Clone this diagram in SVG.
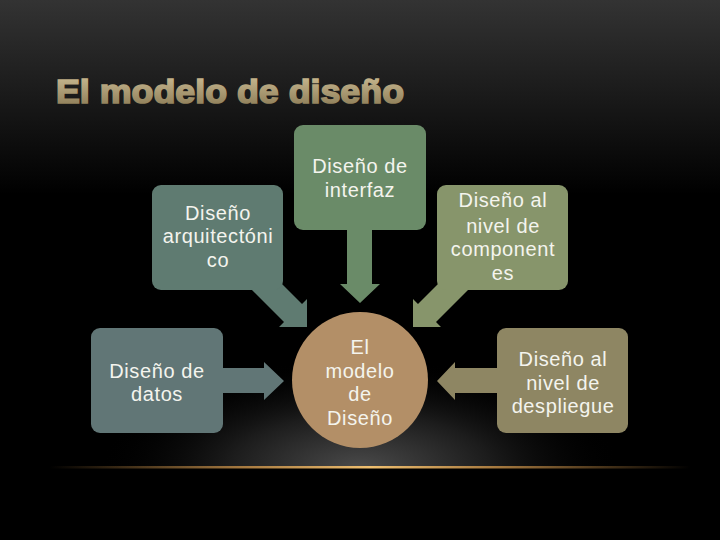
<svg xmlns="http://www.w3.org/2000/svg" width="720" height="540" viewBox="0 0 720 540">
  <defs>
    <linearGradient id="bg" x1="0" y1="0" x2="0" y2="1">
      <stop offset="0" stop-color="#333333"/>
      <stop offset="0.36" stop-color="#000000"/>
      <stop offset="1" stop-color="#000000"/>
    </linearGradient>
    <radialGradient id="glow" cx="360" cy="468" r="260" gradientUnits="userSpaceOnUse" gradientTransform="translate(0,468) scale(1,0.42) translate(0,-468)">
      <stop offset="0" stop-color="#4a4a4a"/>
      <stop offset="0.5" stop-color="#1c1c1c"/>
      <stop offset="1" stop-color="#000000" stop-opacity="0"/>
    </radialGradient>
    <linearGradient id="line" x1="0" y1="0" x2="1" y2="0">
      <stop offset="0" stop-color="#c89048" stop-opacity="0"/>
      <stop offset="0.3" stop-color="#c89048" stop-opacity="0.8"/>
      <stop offset="0.5" stop-color="#f0c070"/>
      <stop offset="0.7" stop-color="#c89048" stop-opacity="0.8"/>
      <stop offset="1" stop-color="#c89048" stop-opacity="0"/>
    </linearGradient>
    <linearGradient id="title" x1="0" y1="0" x2="0" y2="1">
      <stop offset="0" stop-color="#cdbd95"/>
      <stop offset="1" stop-color="#877752"/>
    </linearGradient>
    <style>
      .lbl { font-family: "Liberation Sans", Arial, sans-serif; font-size: 20px; fill: #f4f4ee; text-anchor: middle; letter-spacing: 0.6px; }
      .ttl { font-family: "Liberation Sans", Arial, sans-serif; font-size: 33px; font-weight: 900; fill: url(#title); stroke: url(#title); stroke-width: 1.6; }
    </style>
  </defs>

  <rect x="0" y="0" width="720" height="540" fill="url(#bg)"/>
  <rect x="60" y="330" width="600" height="138" fill="url(#glow)"/>
  <rect x="50" y="466" width="640" height="2.5" fill="url(#line)"/>

  <text class="ttl" x="56" y="103" textLength="348" lengthAdjust="spacingAndGlyphs">El modelo de diseño</text>

  <g id="connectors">
    <polygon fill="#5f7b71" points="262,264 302,304 307,299 307,327 279,327 284,322 244,282"/>
    <polygon fill="#87956b" points="458,264 418,304 413,299 413,327 441,327 436,322 476,282"/>
    <polygon fill="#6a8b68" points="347,225 372,225 372,284 380,284 360,303 340,284 347,284"/>
    <polygon fill="#617676" points="218,368 264,368 264,362 284,381 264,400 264,393 218,393"/>
    <polygon fill="#8e8663" points="502,368 455,368 455,362 437,381 455,400 455,393 502,393"/>
  </g>

  <g id="arquitectonico">
    <rect x="152" y="185" width="131" height="105" rx="9" fill="#5f7b71"/>
    <text class="lbl" x="218" y="220">Diseño</text>
    <text class="lbl" x="218" y="243">arquitectóni</text>
    <text class="lbl" x="218" y="267">co</text>
  </g>

  <g id="interfaz">
    <rect x="294" y="125" width="132" height="105" rx="9" fill="#6a8b68"/>
    <text class="lbl" x="360" y="173">Diseño de</text>
    <text class="lbl" x="360" y="197">interfaz</text>
  </g>

  <g id="componentes">
    <rect x="437" y="185" width="131" height="105" rx="9" fill="#87956b"/>
    <text class="lbl" x="503" y="207">Diseño al</text>
    <text class="lbl" x="503" y="233">nivel de</text>
    <text class="lbl" x="503" y="256">component</text>
    <text class="lbl" x="503" y="280">es</text>
  </g>

  <g id="datos">
    <rect x="91" y="328" width="132" height="105" rx="9" fill="#617676"/>
    <text class="lbl" x="157" y="378">Diseño de</text>
    <text class="lbl" x="157" y="401">datos</text>
  </g>

  <g id="modelo">
    <circle cx="360" cy="380" r="68" fill="#b38f67"/>
    <text class="lbl" x="360" y="354">El</text>
    <text class="lbl" x="360" y="378">modelo</text>
    <text class="lbl" x="360" y="401">de</text>
    <text class="lbl" x="360" y="425">Diseño</text>
  </g>

  <g id="despliegue">
    <rect x="497" y="328" width="131" height="105" rx="9" fill="#8e8663"/>
    <text class="lbl" x="563" y="366">Diseño al</text>
    <text class="lbl" x="563" y="390">nivel de</text>
    <text class="lbl" x="563" y="413">despliegue</text>
  </g>
</svg>
